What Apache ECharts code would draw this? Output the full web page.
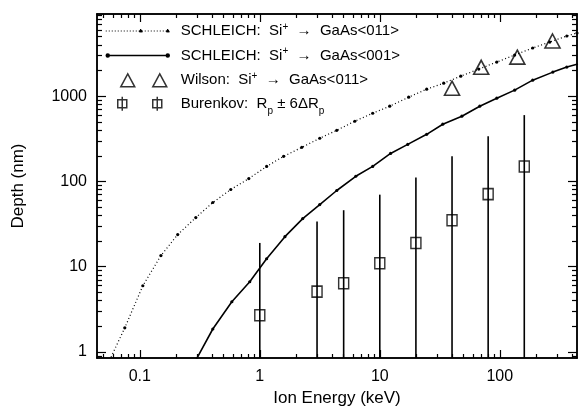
<!DOCTYPE html>
<html>
<head>
<meta charset="utf-8">
<script src="https://cdn.jsdelivr.net/npm/echarts@6/dist/echarts.min.js"></script>
<style>
  html, body { margin: 0; background: #fff; }
  #chart { width: 579px; height: 413px; }
</style>
</head>
<body>
<div id="chart"></div>
<script>
// SCHLEICH: Si+ -> GaAs<011> (dotted)
const energy011 = [0.056, 0.075, 0.106, 0.15, 0.207, 0.293, 0.406, 0.573, 0.81, 1.14, 1.58, 2.24, 3.16, 4.38, 6.19, 8.73, 12.1, 17.4, 24.6, 34.1, 47.3, 66.8, 94.4, 133, 188, 261, 362, 440];
const depth011 = [0.8, 1.92, 5.98, 13.5, 23.8, 37.7, 56.6, 80.5, 108, 150, 197, 251, 321, 398, 508, 631, 763, 973, 1208, 1421, 1718, 2078, 2513, 3036, 3671, 4315, 5080, 5510];

// SCHLEICH: Si+ -> GaAs<001> (solid)
const energy001 = [0.293, 0.406, 0.585, 0.825, 1.14, 1.62, 2.28, 3.16, 4.38, 6.31, 8.73, 12.3, 17.1, 24.6, 33.5, 48.3, 68.1, 94.4, 133, 188, 277, 362, 448];
const depth001 = [0.8, 1.86, 3.88, 6.66, 12.4, 22.5, 36.7, 53.6, 78.3, 115, 150, 213, 272, 357, 469, 582, 763, 947, 1177, 1542, 1915, 2194, 2378];

// Wilson
const wilsonEnergy = [40, 70, 140, 275];
const wilsonDepth = [1240, 2180, 2870, 4440];

// Burenkov: Rp and Rp + 6 dRp
const burenkovEnergy = [1, 3, 5, 10, 20, 40, 80, 160];
const burenkovRp = [2.7, 5.1, 6.4, 11, 19, 35, 71, 150];
const burenkovTop = [19, 34, 46, 70, 111, 197, 338, 600];

// axis ticks
const xMajor = [0.1, 1, 10, 100];
const xMinor = [0.05, 0.06, 0.07, 0.08, 0.09, 0.2, 0.3, 0.4, 0.5, 0.6, 0.7, 0.8, 0.9,
  2, 3, 4, 5, 6, 7, 8, 9, 20, 30, 40, 50, 60, 70, 80, 90, 200, 300, 400];
const yMajor = [1, 10, 100, 1000];
const yMinor = [0.9, 2, 3, 4, 5, 6, 7, 8, 9, 20, 30, 40, 50, 60, 70, 80, 90,
  200, 300, 400, 500, 600, 700, 800, 900, 2000, 3000, 4000, 5000, 6000, 7000, 8000, 9000];

const xMin = 0.044, xMax = 440;
const yMin = 0.85, yMax = 9200;

const names = [
  'SCHLEICH: Si+ -> GaAs<011>',
  'SCHLEICH: Si+ -> GaAs<001>',
  'Wilson: Si+ -> GaAs<011>',
  'Burenkov: Rp +- 6dRp'
];
const labels = {
  [names[0]]: '{t|SCHLEICH:  Si}{sup|+}{t|  →  GaAs<011>}',
  [names[1]]: '{t|SCHLEICH:  Si}{sup|+}{t|  →  GaAs<001>}',
  [names[2]]: '{t|Wilson:  Si}{sup|+}{t|  →  GaAs<011>}',
  [names[3]]: '{t|Burenkov:  R}{sub|p}{t| ± 6ΔR}{sub|p}'
};

const font = 'Liberation Sans';
const black = '#000';

const chart = echarts.init(document.getElementById('chart'));

const makeX = (pos, ticks, len, withLabel) => ({
  type: 'log', position: pos, min: xMin, max: xMax,
  axisLine: { show: withLabel !== null, onZero: false, lineStyle: { color: black, width: 1.5 } },
  axisTick: { inside: true, length: len, customValues: ticks, lineStyle: { color: black, width: 1.2 } },
  axisLabel: withLabel ? {
    customValues: xMajor, margin: 11, color: black, fontFamily: font, fontSize: 16,
    formatter: v => String(v)
  } : { show: false },
  splitLine: { show: false },
  name: withLabel ? 'Ion Energy (keV)' : '',
  nameLocation: 'middle', nameGap: 31,
  nameTextStyle: { color: black, fontFamily: font, fontSize: 17 }
});

const makeY = (pos, ticks, len, withLabel) => ({
  type: 'log', position: pos, min: yMin, max: yMax,
  axisLine: { show: withLabel !== null, onZero: false, lineStyle: { color: black, width: 1.5 } },
  axisTick: { inside: true, length: len, customValues: ticks, lineStyle: { color: black, width: 1.2 } },
  axisLabel: withLabel ? {
    customValues: yMajor, margin: 10, color: black, fontFamily: font, fontSize: 16,
    formatter: v => String(v)
  } : { show: false },
  splitLine: { show: false },
  name: withLabel ? 'Depth (nm)' : '',
  nameLocation: 'middle', nameGap: 70, nameRotate: 90,
  nameTextStyle: { color: black, fontFamily: font, fontSize: 17 }
});

// legend icons (70 x 14 boxes)
const dot = x => `M${x - 1.5},7 a1.5,1.5 0 1,0 3,0 a1.5,1.5 0 1,0 -3,0 Z`;
const box = 'M0,0 M70,14 ';
const icons = [
  'path://' + box + 'M0,7 H62 ' + dot(35) + ' ' + dot(62),
  'path://' + box + 'M0,7 H62 ' + dot(2) + ' ' + dot(62),
  'path://' + box + 'M15,13.5 L22,0.5 L29,13.5 Z M47,13.5 L54,0.5 L61,13.5 Z',
  'path://' + box + 'M12,3 H21 V11 H12 Z M16.5,0 V14 M47,3 H56 V11 H47 Z M51.5,0 V14'
];

const option = {
  animation: false,
  backgroundColor: '#fff',
  grid: { left: 97, right: 2, top: 14, bottom: 55 },
  xAxis: [
    makeX('bottom', xMajor, 8, true),
    makeX('bottom', xMinor, 4, false),
    makeX('top', xMajor, 8, false),
    makeX('top', xMinor, 4, false)
  ],
  yAxis: [
    makeY('left', yMajor, 9, true),
    makeY('left', yMinor, 5, false),
    makeY('right', yMajor, 9, false),
    makeY('right', yMinor, 5, false)
  ],
  legend: {
    orient: 'vertical', left: 100, top: 17,
    itemWidth: 70, itemHeight: 14, itemGap: 8,
    selectedMode: false,
    data: [
      { name: names[0], icon: icons[0], itemStyle: { color: black, borderColor: black, borderWidth: 1.2, borderType: [1, 2] } },
      { name: names[1], icon: icons[1], itemStyle: { color: black, borderColor: black, borderWidth: 1.5, borderType: 'solid' } },
      { name: names[2], icon: icons[2], itemStyle: { color: 'transparent', borderColor: black, borderWidth: 1.5 } },
      { name: names[3], icon: icons[3], itemStyle: { color: 'transparent', borderColor: black, borderWidth: 1.5 } }
    ],
    formatter: name => labels[name],
    textStyle: {
      color: black, fontFamily: font, fontSize: 15,
      rich: {
        t: { fontFamily: font, fontSize: 15, color: black, lineHeight: 18 },
        sup: { fontFamily: font, fontSize: 10, color: black, lineHeight: 18, verticalAlign: 'top' },
        sub: { fontFamily: font, fontSize: 10, color: black, lineHeight: 24, verticalAlign: 'bottom' }
      }
    }
  },
  series: [
    {
      name: names[0], type: 'line',
      data: energy011.map((e, i) => [e, depth011[i]]),
      symbol: 'circle', symbolSize: 3.2, showAllSymbol: true,
      itemStyle: { color: black },
      lineStyle: { color: black, width: 1.2, type: [1, 2.5] },
      clip: true, z: 3
    },
    {
      name: names[1], type: 'line',
      data: energy001.map((e, i) => [e, depth001[i]]),
      symbol: 'circle', symbolSize: 3.2, showAllSymbol: true,
      itemStyle: { color: black },
      lineStyle: { color: black, width: 1.6 },
      clip: true, z: 3
    },
    {
      name: names[2], type: 'scatter',
      data: wilsonEnergy.map((e, i) => [e, wilsonDepth[i]]),
      symbol: 'triangle', symbolSize: [15, 14],
      itemStyle: { color: 'transparent', borderColor: black, borderWidth: 1.6 },
      z: 4
    },
    {
      name: 'errorbars', type: 'custom',
      data: burenkovEnergy.map((e, i) => [e, burenkovTop[i]]),
      encode: { x: 0, y: 1 },
      renderItem: (params, api) => {
        const top = api.coord([api.value(0), api.value(1)]);
        const bottom = api.coord([api.value(0), yMin]);
        return {
          type: 'line',
          shape: { x1: top[0], y1: top[1], x2: bottom[0], y2: bottom[1] },
          style: { stroke: black, lineWidth: 1.6 }
        };
      },
      z: 2
    },
    {
      name: names[3], type: 'scatter',
      data: burenkovEnergy.map((e, i) => [e, burenkovRp[i]]),
      symbol: 'rect', symbolSize: [10, 11],
      itemStyle: { color: 'transparent', borderColor: black, borderWidth: 1.5 },
      z: 4
    }
  ]
};

chart.setOption(option);
</script>
</body>
</html>
